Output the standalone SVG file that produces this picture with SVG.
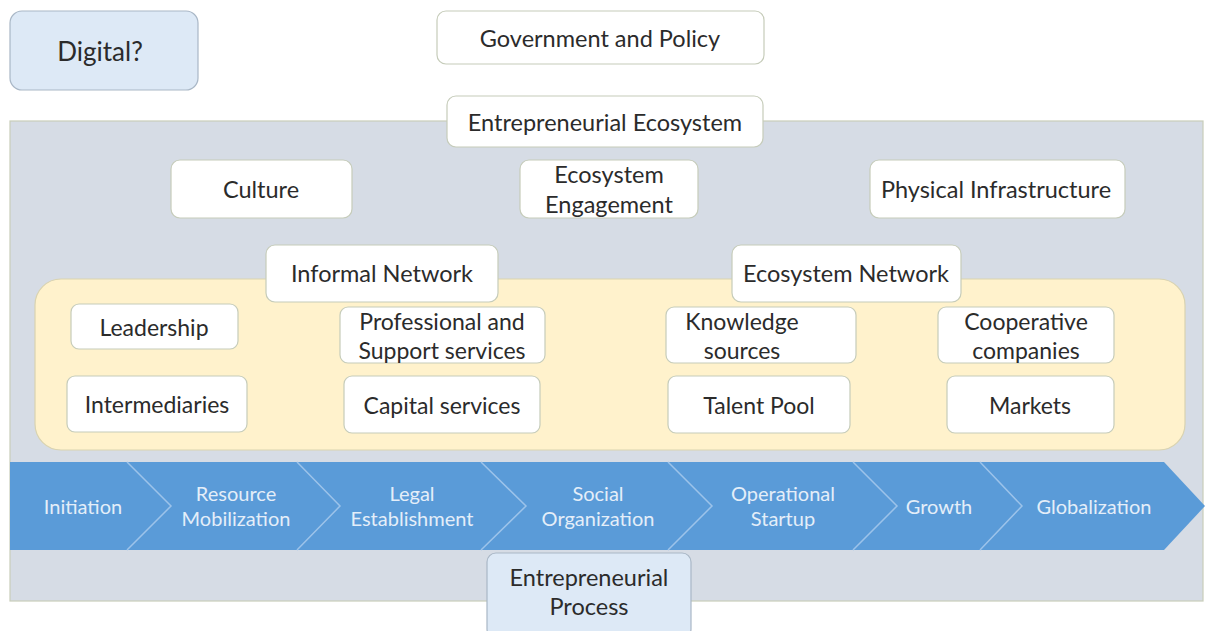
<svg xmlns="http://www.w3.org/2000/svg" width="1205" height="631" viewBox="0 0 1205 631">
<style>
.box{fill:#ffffff;stroke:#c6ccba;stroke-width:1.2}
.t{font-family:Lato,"Open Sans","Liberation Sans",sans-serif;fill:#2b2b2b;text-anchor:middle;dominant-baseline:central}
.m{font-size:23.5px}
.s{font-size:23px}
.w{font-family:Lato,"Open Sans","Liberation Sans",sans-serif;fill:#e4eef9;text-anchor:middle;dominant-baseline:central;font-size:20px}
.div{fill:none;stroke:#9cc3ea;stroke-width:1.5}
</style>
<rect x="0" y="0" width="1205" height="631" fill="#ffffff"/>
<g id="ecosystem-bg"><rect x="10" y="121" width="1193" height="480" fill="#d6dce5" stroke="#c8cdb9" stroke-width="1.2"/></g>
<g id="network-bg"><rect x="35" y="279" width="1150" height="171" rx="26" fill="#fff2cc" stroke="#d9d3b0" stroke-width="1.2"/></g>
<g id="digital"><rect x="10" y="11" width="188" height="79" rx="12" fill="#dde9f6" stroke="#a9b7c6" stroke-width="1.2"/><text class="t" style="font-size:26px" x="100" y="51">Digital?</text></g>
<g id="government"><rect class="box" x="437" y="11" width="327" height="53" rx="9"/><text class="t m" x="600" y="38">Government and Policy</text></g>
<g id="entrepreneurial-ecosystem"><rect class="box" x="447" y="96" width="316" height="51" rx="9"/><text class="t m" x="605" y="122">Entrepreneurial Ecosystem</text></g>
<g id="culture"><rect class="box" x="171" y="160" width="181" height="58" rx="9"/><text class="t m" x="261" y="189">Culture</text></g>
<g id="engagement"><rect class="box" x="520" y="160" width="178" height="58" rx="9"/><text class="t m" x="609" y="174">Ecosystem</text><text class="t m" x="609" y="204">Engagement</text></g>
<g id="infrastructure"><rect class="box" x="870" y="160" width="255" height="58" rx="9"/><text class="t m" x="996" y="189">Physical Infrastructure</text></g>
<g id="informal-network"><rect class="box" x="266" y="245" width="232" height="57" rx="9"/><text class="t m" x="382" y="273">Informal Network</text></g>
<g id="ecosystem-network"><rect class="box" x="732" y="245" width="229" height="57" rx="9"/><text class="t m" x="846" y="273">Ecosystem Network</text></g>
<g id="leadership"><rect class="box" x="71" y="304" width="167" height="45" rx="8"/><text class="t s" x="154" y="327">Leadership</text></g>
<g id="professional"><rect class="box" x="340" y="307" width="205" height="56" rx="8"/><text class="t s" x="442" y="321">Professional and</text><text class="t s" x="442" y="350">Support services</text></g>
<g id="knowledge"><rect class="box" x="666" y="307" width="190" height="56" rx="8"/><text class="t s" x="742" y="321">Knowledge</text><text class="t s" x="742" y="350">sources</text></g>
<g id="cooperative"><rect class="box" x="938" y="307" width="176" height="56" rx="8"/><text class="t s" x="1026" y="321">Cooperative</text><text class="t s" x="1026" y="350">companies</text></g>
<g id="intermediaries"><rect class="box" x="67" y="376" width="180" height="56" rx="8"/><text class="t s" x="157" y="404">Intermediaries</text></g>
<g id="capital"><rect class="box" x="344" y="376" width="196" height="57" rx="8"/><text class="t s" x="442" y="405">Capital services</text></g>
<g id="talent"><rect class="box" x="668" y="376" width="182" height="57" rx="8"/><text class="t s" x="759" y="405">Talent Pool</text></g>
<g id="markets"><rect class="box" x="947" y="376" width="167" height="57" rx="8"/><text class="t s" x="1030" y="405">Markets</text></g>
<g id="process-band">
<polygon points="10,462 1164,462 1205,506 1164,550 10,550" fill="#5a9bd8"/>
<polyline class="div" points="127,462 171,506 127,550"/>
<polyline class="div" points="297,462 340,506 297,550"/>
<polyline class="div" points="481,462 526,506 481,550"/>
<polyline class="div" points="668,462 712,506 668,550"/>
<polyline class="div" points="853,462 897,506 853,550"/>
<polyline class="div" points="980,462 1022,506 980,550"/>
<text class="w" x="83" y="506">Initiation</text>
<text class="w" x="236" y="493">Resource</text><text class="w" x="236" y="518">Mobilization</text>
<text class="w" x="412" y="493">Legal</text><text class="w" x="412" y="518">Establishment</text>
<text class="w" x="598" y="493">Social</text><text class="w" x="598" y="518">Organization</text>
<text class="w" x="783" y="493">Operational</text><text class="w" x="783" y="518">Startup</text>
<text class="w" x="939" y="506">Growth</text>
<text class="w" x="1094" y="506">Globalization</text>
</g>
<g id="entrepreneurial-process"><rect x="487" y="553" width="204" height="85" rx="9" fill="#dde9f6" stroke="#a9b7c6" stroke-width="1.2"/><text class="t m" x="589" y="577">Entrepreneurial</text><text class="t m" x="589" y="606">Process</text></g>
<g id="connectors"></g>
</svg>
